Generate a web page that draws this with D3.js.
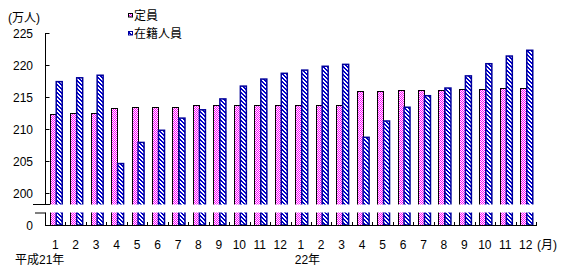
<!DOCTYPE html>
<html><head><meta charset="utf-8">
<script src="https://cdn.jsdelivr.net/npm/d3@7"></script>
<style>body{margin:0;background:#fff}svg{display:block}text{font-family:"Liberation Sans","Noto Sans CJK JP",sans-serif;font-size:12px;fill:#000}</style>
</head><body>
<script>
const months = ["1","2","3","4","5","6","7","8","9","10","11","12","1","2","3","4","5","6","7","8","9","10","11","12"];
const teiin = [212.3,212.45,212.45,213.2,213.4,213.4,213.4,213.6,213.6,213.6,213.75,213.75,213.75,213.75,213.75,215.9,215.9,216.0,216.05,216.05,216.2,216.2,216.4,216.4];
const zaiseki = [217.4,218.0,218.4,204.6,207.9,209.8,211.7,213.0,214.7,216.7,217.8,218.7,219.2,219.8,220.1,208.7,211.25,213.4,215.2,216.4,218.3,220.2,221.4,222.3];
const yTicks = [200,205,210,215,220,225];
const seriesNames = ["定員","在籍人員"];
const yearLabels = [{i:0,t:"平成21年"},{i:12,t:"22年"}];

const W=569,H=275;
const svg=d3.select("body").append("svg").attr("width",W).attr("height",H);
const defs=svg.append("defs");
const pk=defs.append("pattern").attr("id","pink").attr("patternUnits","userSpaceOnUse").attr("width",2).attr("height",2);
pk.append("rect").attr("width",2).attr("height",2).attr("fill","#fff");
pk.append("rect").attr("x",0).attr("y",0).attr("width",1).attr("height",1).attr("fill","#ff00ff");
pk.append("rect").attr("x",1).attr("y",1).attr("width",1).attr("height",1).attr("fill","#ff00ff");
const bl=defs.append("pattern").attr("id","blue").attr("patternUnits","userSpaceOnUse").attr("width",4).attr("height",4);
bl.append("rect").attr("width",4).attr("height",4).attr("fill","#fff");
for(let y=0;y<4;y++)for(let x=0;x<4;x++){const d=((x-y)%4+4)%4;if(d===0||d===1)bl.append("rect").attr("x",x).attr("y",y).attr("width",1).attr("height",1).attr("fill","#0000cc");}

const x=d3.scaleBand().domain(d3.range(months.length)).range([45,536]).padding(0);
const y=d3.scaleLinear().domain([200,225]).range([193,33]);
const base=225, gapTop=204.5, gapBot=212.5;

const g=svg.append("g");
months.forEach((m,i)=>{
  const c=x(i)+x.bandwidth()/2;
  g.append("rect").attr("x",c-5).attr("y",y(teiin[i])).attr("width",6).attr("height",base-y(teiin[i]))
    .attr("fill","url(#pink)").attr("stroke","#000").attr("stroke-width",1).attr("shape-rendering","crispEdges");
  g.append("rect").attr("x",c+1).attr("y",y(zaiseki[i])).attr("width",6).attr("height",base-y(zaiseki[i]))
    .attr("fill","url(#blue)").attr("stroke","#00009a").attr("stroke-width",1.5);
});
svg.append("rect").attr("x",45.8).attr("y",gapTop).attr("width",500).attr("height",gapBot-gapTop).attr("fill","#fff");

svg.append("line").attr("x1",45.5).attr("x2",45.5).attr("y1",y(225)).attr("y2",gapTop).attr("stroke","#000");
yTicks.forEach(t=>{
  svg.append("line").attr("x1",45).attr("x2",49.5).attr("y1",Math.round(y(t))+0.5).attr("y2",Math.round(y(t))+0.5).attr("stroke","#000");
  svg.append("text").attr("x",33).attr("y",y(t)+4.5).attr("text-anchor","end").text(t);
});
svg.append("line").attr("x1",33).attr("x2",50).attr("y1",gapTop).attr("y2",gapTop).attr("stroke","#000");
svg.append("line").attr("x1",35).attr("x2",45.5).attr("y1",gapBot+0.5).attr("y2",gapBot+0.5).attr("stroke","#000");
svg.append("line").attr("x1",45.5).attr("x2",45.5).attr("y1",gapBot).attr("y2",base).attr("stroke","#000");
svg.append("text").attr("x",33).attr("y",base+4.5).attr("text-anchor","end").text("0");
svg.append("line").attr("x1",45).attr("x2",537).attr("y1",base+0.5).attr("y2",base+0.5).attr("stroke","#000").attr("stroke-width",1.2);
d3.range(1,months.length+1).forEach(i=>{
  const xx=Math.round(i<months.length?x(i):536)+0.5;
  svg.append("line").attr("x1",xx).attr("x2",xx).attr("y1",base).attr("y2",base-3).attr("stroke","#000");
});
months.forEach((m,i)=>{
  svg.append("text").attr("x",x(i)+x.bandwidth()/2).attr("y",248.5).attr("text-anchor","middle").text(m);
});
svg.append("text").attr("x",537).attr("y",248.5).text("(月)");
yearLabels.forEach(d=>{
  const xx = d.i===0 ? 15 : x(d.i)+x.bandwidth()/2-6;
  svg.append("text").attr("x",xx).attr("y",264).text(d.t);
});
svg.append("text").attr("x",8).attr("y",21.5).text("(万人)");
const lg=[{n:seriesNames[0],f:"url(#pink)",s:"#000",y:13},{n:seriesNames[1],f:"url(#blue)",s:"#00009a",y:31}];
lg.forEach(d=>{
  svg.append("rect").attr("x",128.5).attr("y",d.y+0.5).attr("width",4).attr("height",3.5).attr("fill",d.f).attr("stroke",d.s).attr("stroke-width",1);
  svg.append("text").attr("x",134).attr("y",d.y+6.5).text(d.n);
});
</script>
</body></html>
